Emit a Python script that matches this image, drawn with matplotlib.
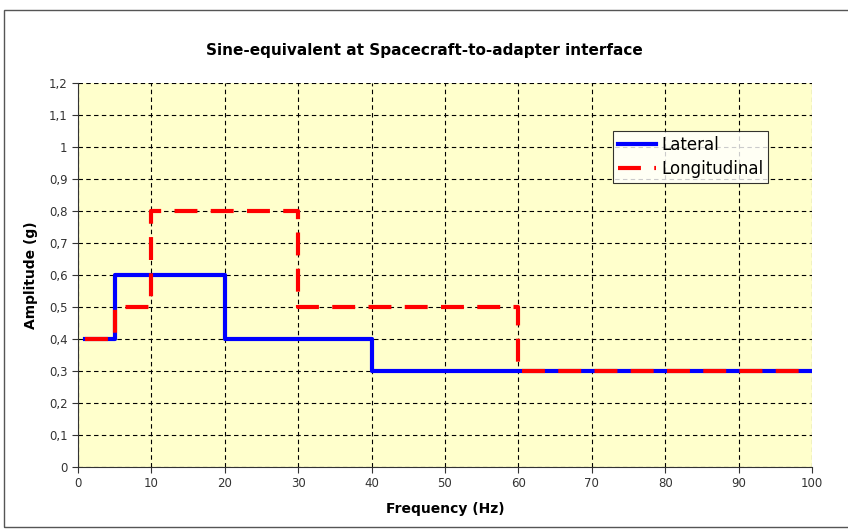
import matplotlib
matplotlib.use("Agg")
import matplotlib.pyplot as plt
from matplotlib.patches import Rectangle
from matplotlib.ticker import FuncFormatter, MultipleLocator

# Data
freq_lateral = [1, 5, 20, 40, 100]
amp_lateral = [0.4, 0.6, 0.4, 0.3, 0.3]
freq_longitudinal = [1, 5, 10, 30, 60, 100]
amp_longitudinal = [0.4, 0.5, 0.8, 0.5, 0.3, 0.3]

title = "Sine-equivalent at Spacecraft-to-adapter interface"
xlabel = "Frequency (Hz)"
ylabel = "Amplitude (g)"

fig = plt.figure(figsize=(8.48, 5.30), dpi=100)
fig.patch.set_facecolor("white")
fig.patches.append(Rectangle((4 / 848, 0.005), 1.0, 1 - 10 / 530 - 0.005, transform=fig.transFigure,
                             fill=False, edgecolor="#555555", linewidth=1.0))

ax = fig.add_axes([78 / 848, 1 - 467 / 530, (812 - 78) / 848, (467 - 83) / 530])
ax.set_facecolor("#FFFFCC")

ax.plot(freq_lateral, amp_lateral, drawstyle="steps-post", color="#0000FF",
        linewidth=3.0, label="Lateral", zorder=3)
ax.plot(freq_longitudinal, amp_longitudinal, drawstyle="steps-post", color="#FF0000",
        linewidth=3.0, dashes=(5.5, 3.2), label="Longitudinal", zorder=4)

ax.set_xlim(0, 100)
ax.set_ylim(0, 1.2)
ax.xaxis.set_major_locator(MultipleLocator(10))
ax.yaxis.set_major_locator(MultipleLocator(0.1))
ax.yaxis.set_major_formatter(FuncFormatter(lambda v, p: ("%g" % round(v, 1)).replace(".", ",")))

ax.grid(True, color="black", linestyle=(0, (4, 3)), linewidth=0.8)
ax.set_axisbelow(True)

for s in ["top", "right"]:
    ax.spines[s].set_visible(False)
for s in ["left", "bottom"]:
    ax.spines[s].set_color("#333333")
ax.tick_params(direction="out", length=4, color="#333333", labelsize=8.5, labelcolor="#333333")

ax.set_xlabel(xlabel, fontsize=10, fontweight="bold", labelpad=8)
ax.set_ylabel(ylabel, fontsize=10, fontweight="bold", labelpad=8)
fig.text(0.5, 1 - 50 / 530, title, ha="center", va="center", fontsize=11, fontweight="bold")

leg = ax.legend(loc="upper left", bbox_to_anchor=((613 - 78) / 734, (467 - 131) / 384),
                fontsize=12, frameon=True, fancybox=False, handlelength=2.3,
                borderpad=0.3, labelspacing=0.35, handletextpad=0.3, borderaxespad=0)
leg.get_frame().set_edgecolor("black")
leg.get_frame().set_linewidth(0.8)

fig.savefig("out.png", dpi=100)
